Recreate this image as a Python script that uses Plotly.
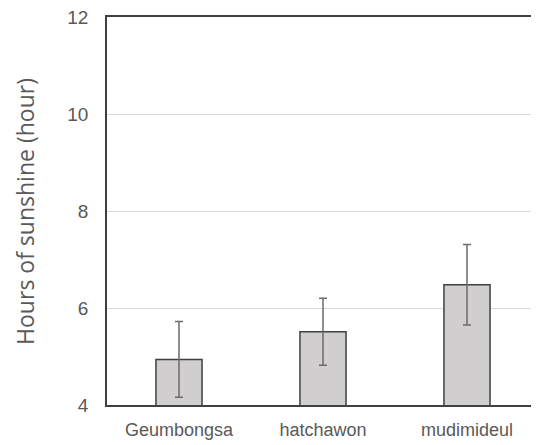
import plotly.graph_objects as go

categories = ["Geumbongsa", "hatchawon", "mudimideul"]
values = [4.94, 5.51, 6.48]
errors = [0.78, 0.69, 0.83]
y_ticks = [4, 6, 8, 10, 12]

fig = go.Figure()
fig.add_trace(go.Bar(
    x=categories, y=values,
    width=0.32,
    marker=dict(color="#d0cece", line=dict(color="#404040", width=1.5)),
    error_y=dict(type="data", array=errors, visible=True,
                 color="#6b6b6b", thickness=1.5, width=4),
))

fig.update_layout(
    width=531, height=437,
    margin=dict(l=99, r=0, t=9, b=40),
    plot_bgcolor="white", paper_bgcolor="white",
    showlegend=False,
    font=dict(family="Liberation Sans, Arial, sans-serif", color="#595959", size=18),
    xaxis=dict(
        showline=True, linecolor="#404040", linewidth=1.5, mirror=True,
        ticks="", showgrid=False,
        tickfont=dict(size=18, color="#595959"),
        ticklabelstandoff=8,
    ),
    yaxis=dict(
        range=[4, 12], tickvals=y_ticks,
        showline=True, linecolor="#404040", linewidth=1.5,
        showgrid=True, gridcolor="#d9d9d9", gridwidth=1,
        zeroline=False, ticks="",
        tickfont=dict(size=19, color="#595959"),
        ticklabelstandoff=13,
        ticklabeloverflow="allow",
    ),
    annotations=[dict(
        text="Hours of sunshine (hour)", textangle=-90,
        xref="paper", yref="paper", x=-0.19, y=0.5,
        xanchor="center", yanchor="middle", showarrow=False,
        font=dict(family="Open Sans, sans-serif", size=23, color="#595959"),
    )],
)

fig.write_html("out.html")
